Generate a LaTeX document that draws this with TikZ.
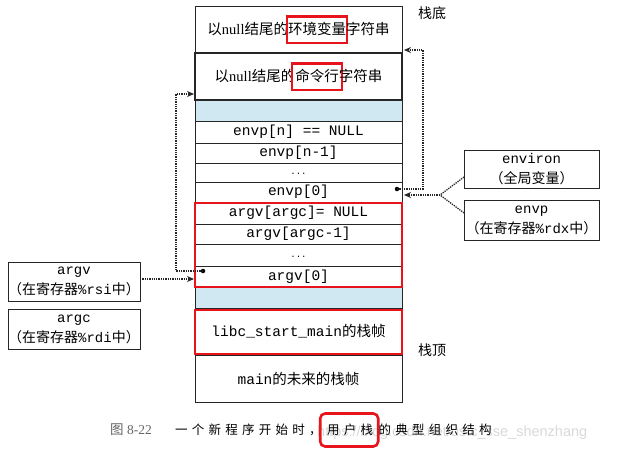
\documentclass[tikz,border=0pt]{standalone}
\usepackage{fontspec}
\setmainfont{Liberation Serif}
\newfontfamily\cjk{Noto Sans CJK SC}
\newfontfamily\mono{Liberation Mono}
\newfontfamily\wmfont{Liberation Sans}
\newfontfamily\capfont[LetterSpace=34]{Noto Sans CJK SC}
\usetikzlibrary{arrows.meta,calc}
\definecolor{stackblue}{HTML}{CFE8F1}
\definecolor{hired}{HTML}{E8141B}
\newsavebox\hlsave
\newcommand\hlword[2]{\sbox\hlsave{#2}\makebox[\wd\hlsave]{{\setlength\fboxsep{0pt}\setlength\fboxrule{2.4pt}\fcolorbox{hired}{white}{\hspace{#1}\rule[-7pt]{0pt}{24pt}#2\hspace{#1}}}}}
\tikzset{
  cell/.style={draw=black!85, line width=0.9pt, anchor=north west, minimum width=207pt, inner sep=0pt, outer sep=0pt, font=\fontsize{14.5}{16}\selectfont\mono},
  bluecell/.style={cell, fill=stackblue},
  sidebox/.style={draw=black!85, line width=0.9pt, inner sep=0pt, outer sep=0pt, align=center, font=\fontsize{14}{20}\selectfont\mono},
  conn/.style={densely dotted, line width=1.3pt, black!85},
  arr/.style={conn, -{Stealth[length=7pt,width=6pt]}},
  dotmark/.style={circle, fill=black, inner sep=0pt, minimum size=4.5pt},
  lbl/.style={font=\fontsize{14}{16}\selectfont\cjk, inner sep=0pt},
  captxt/.style={inner sep=0pt, font=\fontsize{12.5}{14}\selectfont\capfont}
}
\begin{document}
\begin{tikzpicture}[x=1pt,y=-1pt]
\useasboundingbox (0,0) rectangle (623,453);
\fill[white] (0,0) rectangle (623,453);
% stack cells
\node[cell, minimum height=47pt, font=\fontsize{14.5}{16}\selectfont] (r1) at (195,6) {{\cjk 以}null{\cjk 结尾的\hlword{0pt}{环境变量}字符串}};
\node[cell, minimum height=47pt, line width=1.6pt, font=\fontsize{14.5}{16}\selectfont] (r2) at (195,53) {{\cjk 以}null{\cjk 结尾的\hlword{2pt}{命令行}字符串}};
\node[bluecell, minimum height=21pt] (b1) at (195,100) {};
\node[cell, minimum height=22pt] (e1) at (195,121) {envp[n] == NULL};
\node[cell, minimum height=20pt] (e2) at (195,143) {envp[n-1]};
\node[cell, minimum height=19pt, font=\fontsize{9}{10}\selectfont\mono] (e3) at (195,163) {\raisebox{-4pt}{...}};
\node[cell, minimum height=20pt] (e4) at (195,182) {envp[0]};
\node[cell, minimum height=22pt] (a1) at (195,202) {argv[argc]= NULL};
\node[cell, minimum height=20pt] (a2) at (195,224) {argv[argc-1]};
\node[cell, minimum height=22pt, font=\fontsize{9}{10}\selectfont\mono] (a3) at (195,244) {\raisebox{-4pt}{...}};
\node[cell, minimum height=21pt] (a4) at (195,266) {argv[0]};
\node[bluecell, minimum height=21pt] (b2) at (195,287) {};
\node[cell, minimum height=47pt] (l1) at (195,308) {libc\_start\_main{\cjk 的栈帧}};
\node[cell, minimum height=47pt] (m1) at (195,355) {main{\cjk 的未来的栈帧}};
% highlight boxes
\draw[draw=hired, line width=2.4pt] (a1.north west) ++(0,1) rectangle (a4.south east);
\draw[draw=hired, line width=2.4pt] (l1.north west) ++(0,2) rectangle ($(l1.south east)+(0,-1)$);
% labels
\node[lbl, anchor=west] (bottom) at (418,13) {栈底};
\node[lbl, anchor=west] (top) at (418,350) {栈顶};
% side boxes
\node[sidebox, minimum width=132pt, minimum height=39pt] (argvbox) at (74,281.5) {argv\\{\cjk （在寄存器}\%rsi{\cjk 中）}};
\node[sidebox, minimum width=132pt, minimum height=40pt] (argcbox) at (74,329) {argc\\{\cjk （在寄存器}\%rdi{\cjk 中）}};
\node[sidebox, minimum width=135pt, minimum height=38pt] (environbox) at (531.5,169) {environ\\{\cjk （全局变量）}};
\node[sidebox, minimum width=135pt, minimum height=40pt] (envpbox) at (531.5,220) {envp\\{\cjk （在寄存器}\%rdx{\cjk 中）}};
% connectors right
\node[dotmark] (d1) at (397,189) {};
\coordinate (t1) at (404,50);
\draw[arr] (d1.center) -- (423,189) -- (423,50) -- (t1);
\coordinate (br) at (440,195);
\coordinate (t2) at (404,195);
\draw[conn] (environbox.west |- 0,177) -- (br);
\draw[conn] (envpbox.west |- 0,213) -- (br);
\draw[arr] (br) -- (t2);
% connectors left
\node[dotmark] (d2) at (203,271) {};
\coordinate (t3) at (194,94);
\draw[arr] (d2.center) -- (176,271) -- (176,94) -- (t3);
\coordinate (t4) at (194,279);
\draw[arr] (argvbox.east |- 0,279) -- (t4);
% caption
\node[anchor=west, inner sep=0pt, font=\fontsize{13.5}{15}\selectfont, text=black!60] (capnum) at (110,430) {{\cjk 图} 8-22};
\node[anchor=west, inner sep=0pt, font=\fontsize{14.5}{16}\selectfont\wmfont, text=black!15] (wm) at (317,433) {https://blog.csdn.net/ustc\_sse\_shenzhang};
\node[captxt, anchor=west] (cap1) at (175,430) {一个新程序开始时，};
\node[captxt, anchor=west, draw=hired, line width=2.6pt, rounded corners=5pt, inner xsep=0pt, inner ysep=0pt, minimum width=58pt, minimum height=33pt] (cap2) at ([xshift=-3pt]cap1.east) {\hspace{2pt}用户栈};
\node[captxt, anchor=west] (cap3) at ([xshift=-1pt]cap2.east) {的典型组织结构};
\end{tikzpicture}
\end{document}
